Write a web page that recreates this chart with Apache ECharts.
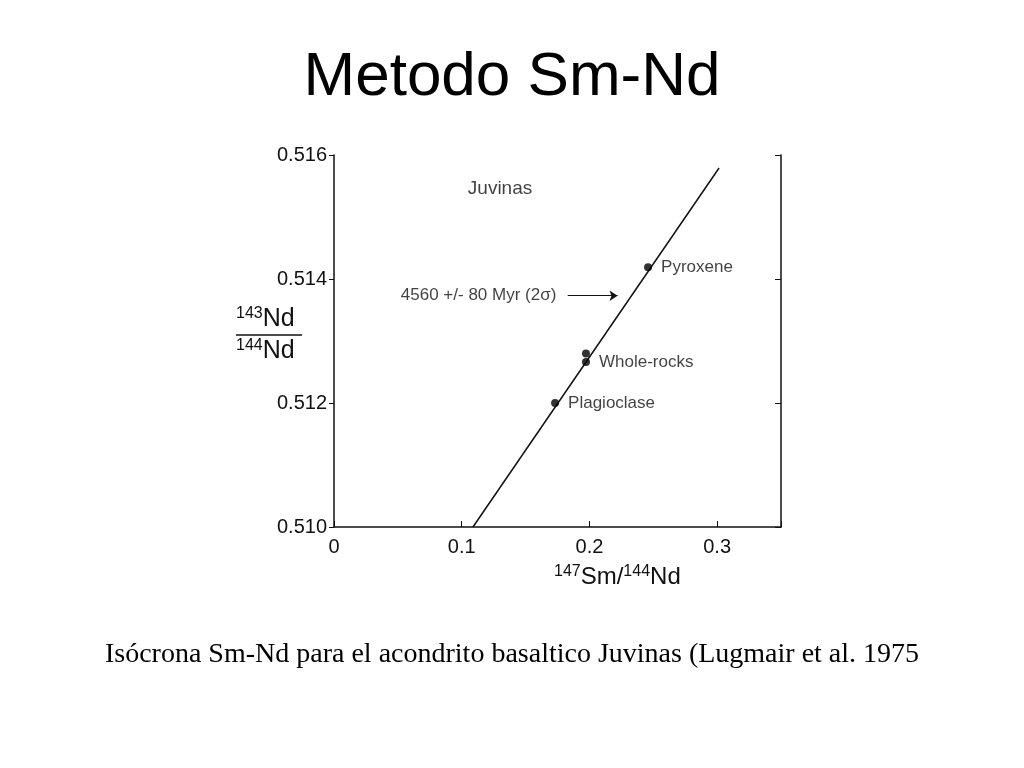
<!DOCTYPE html>
<html><head><meta charset="utf-8">
<script src="https://cdn.jsdelivr.net/npm/echarts@6/dist/echarts.min.js"></script>
<style>body{margin:0;background:#fff}#c{width:1024px;height:768px}</style>
</head><body><div id="c"></div>
<script>
const pointNames = ['Plagioclase', 'Whole-rocks', '', 'Pyroxene'];
const smNd = [0.1731, 0.1973, 0.1973, 0.2459];
const ndNd = [0.5120, 0.51266, 0.5128, 0.51419];
const isochronX = [0.1088, 0.3015];
const isochronY = [0.5100, 0.51579];
const xTicks = [0, 0.1, 0.2, 0.3];
const yTicks = [0.510, 0.512, 0.514, 0.516];

const chart = echarts.init(document.getElementById('c'));
const font = '"Liberation Sans", Arial, sans-serif';
chart.setOption({
  animation: false,
  title: [{text: 'Metodo Sm-Nd', left: 'center', top: 42, textStyle: {fontFamily: font, fontSize: 62, fontWeight: 'normal', color: '#000'}},
          {text: 'Isócrona Sm-Nd para el acondrito basaltico Juvinas (Lugmair et al. 1975', left: 'center', top: 636, textStyle: {fontFamily: '"Liberation Serif", "Times New Roman", serif', fontSize: 28, fontWeight: 'normal', color: '#000'}}],
  grid: {left: 334, right: 243, top: 155, bottom: 241},
  xAxis: {type: 'value', min: 0, max: 0.35, interval: 0.1,
    axisLine: {lineStyle: {color: '#111', width: 1.5}}, splitLine: {show: false},
    axisTick: {inside: true, length: 6, lineStyle: {color: '#111'}},
    axisLabel: {color: '#111', fontSize: 20, fontFamily: font, margin: 10,
      formatter: v => xTicks.includes(Math.round(v*10)/10) ? (v === 0 ? '0' : v.toFixed(1)) : ''}},
  yAxis: [{type: 'value', min: 0.510, max: 0.516, interval: 0.002,
    axisLine: {show: true, lineStyle: {color: '#111', width: 1.5}}, splitLine: {show: false},
    axisTick: {show: true, inside: false, length: 5, lineStyle: {color: '#111'}},
    axisLabel: {color: '#111', fontSize: 20, fontFamily: font, margin: 7, formatter: v => v.toFixed(3)}},
    {type: 'value', min: 0.510, max: 0.516, interval: 0.002, position: 'right',
    axisLine: {show: true, lineStyle: {color: '#111', width: 1.5}}, splitLine: {show: false},
    axisTick: {show: true, inside: true, length: 6, lineStyle: {color: '#111'}}, axisLabel: {show: false}}],
  graphic: [
    {type: 'text', left: 236, top: 306, style: {text: '{s|143}{n|Nd}', rich: {s: {fontSize: 16, fontFamily: font, padding: [0,0,10,0]}, n: {fontSize: 25, fontFamily: font}}, fill: '#111'}},
    {type: 'line', shape: {x1: 236, y1: 335, x2: 302, y2: 335}, style: {stroke: '#111', lineWidth: 1.5}},
    {type: 'text', left: 236, top: 338, style: {text: '{s|144}{n|Nd}', rich: {s: {fontSize: 16, fontFamily: font, padding: [0,0,10,0]}, n: {fontSize: 25, fontFamily: font}}, fill: '#111'}},
    {type: 'text', left: 554, top: 564, style: {text: '{s|147}{n|Sm/}{s|144}{n|Nd}', rich: {s: {fontSize: 16, fontFamily: font, padding: [0,0,10,0]}, n: {fontSize: 24, fontFamily: font}}, fill: '#111'}}
  ],
  series: [
    {type: 'line', data: isochronX.map((x, i) => [x, isochronY[i]]), symbol: 'none', lineStyle: {color: '#111', width: 1.5}, z: 2,
     markLine: {silent: true, symbol: ['none', 'arrow'], symbolSize: 8, lineStyle: {color: '#111', width: 1, type: 'solid'}, label: {show: false},
       data: [[{coord: [0.183, 0.51373]}, {coord: [0.222, 0.51373]}]]}},
    {type: 'scatter', data: smNd.map((x, i) => ({value: [x, ndNd[i]], name: pointNames[i]})), symbolSize: 8, itemStyle: {color: '#000'}, z: 3,
     label: {show: true, position: 'right', distance: 9, color: '#111', fontSize: 17, fontFamily: font, formatter: p => p.name}},
    {type: 'scatter', symbolSize: 0, silent: true,
     data: [{value: [0.13, 0.51546], name: 'Juvinas', label: {position: 'inside', fontSize: 19}},
            {value: [0.178, 0.51373], name: '4560 +/- 80 Myr (2σ)', label: {position: 'left', fontSize: 17}}],
     label: {show: true, color: '#111', fontFamily: font, formatter: p => p.name}}
  ]
});
</script></body></html>
